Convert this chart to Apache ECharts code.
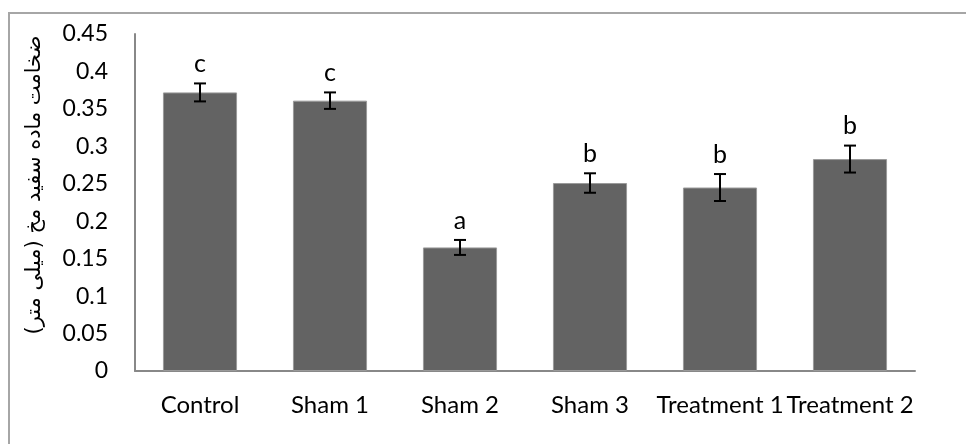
<!DOCTYPE html>
<html>
<head>
<meta charset="utf-8">
<script src="https://cdn.jsdelivr.net/npm/echarts@6/dist/echarts.min.js"></script>
<style>html,body{margin:0;padding:0;background:#fff;}#c{width:966px;height:444px;}</style>
</head>
<body>
<div id="c"></div>
<script>
const categories = ['Control', 'Sham 1', 'Sham 2', 'Sham 3', 'Treatment 1', 'Treatment 2'];
const means = [0.372, 0.361, 0.165, 0.251, 0.245, 0.283];
const errors = [0.012, 0.011, 0.010, 0.013, 0.018, 0.018];
const letters = ['c', 'c', 'a', 'b', 'b', 'b'];
const yTicks = ['0', '0.05', '0.1', '0.15', '0.2', '0.25', '0.3', '0.35', '0.4', '0.45'];
const yTitle = 'ضخامت ماده سفید مخ (میلی متر)';

const FONT = 'Lato';
const errData = categories.map((c, i) => [i, means[i] - errors[i], means[i] + errors[i], i]);

const chart = echarts.init(document.getElementById('c'), null, { renderer: 'canvas' });
chart.setOption({
  animation: false,
  backgroundColor: '#fff',
  grid: { left: 135, right: 51, top: 34, bottom: 73 },
  graphic: [
    { type: 'rect', shape: { x: 9, y: 13, width: 1000, height: 500 }, style: { fill: 'none', stroke: '#a6a6a6', lineWidth: 2 }, silent: true, z: 0 },
    { type: 'text', x: 35, y: 185, rotation: Math.PI / 2,
      style: { text: yTitle, fontSize: 21, fontFamily: 'DejaVu Sans', fill: '#000', align: 'center', verticalAlign: 'middle' } }
  ],
  xAxis: {
    type: 'category',
    data: categories,
    axisLine: { lineStyle: { color: '#888', width: 2 } },
    axisTick: { show: false },
    axisLabel: { color: '#000', fontSize: 24, fontFamily: FONT, margin: 22, interval: 0 }
  },
  yAxis: {
    type: 'value',
    min: 0, max: 0.45, interval: 0.05,
    axisLine: { show: true, lineStyle: { color: '#888', width: 2 } },
    axisTick: { show: false },
    splitLine: { show: false },
    axisLabel: { color: '#000', fontSize: 23, fontFamily: FONT, margin: 27,
      formatter: (v) => yTicks[Math.round(v / 0.05)] }
  },
  series: [
    {
      type: 'bar',
      data: means,
      barWidth: '57%',
      itemStyle: { color: '#636363', borderColor: '#9a9a9a', borderWidth: 1 }
    },
    {
      type: 'custom',
      data: errData,
      z: 10,
      renderItem: function (params, api) {
        const i = api.value(0);
        const lo = api.coord([i, api.value(1)]);
        const hi = api.coord([i, api.value(2)]);
        const hw = 6;
        const st = { stroke: '#000', lineWidth: 2 };
        return {
          type: 'group',
          children: [
            { type: 'line', shape: { x1: lo[0], y1: lo[1], x2: hi[0], y2: hi[1] }, style: st },
            { type: 'line', shape: { x1: hi[0] - hw, y1: hi[1], x2: hi[0] + hw, y2: hi[1] }, style: st },
            { type: 'line', shape: { x1: lo[0] - hw, y1: lo[1], x2: lo[0] + hw, y2: lo[1] }, style: st },
            { type: 'text', x: hi[0], y: hi[1] - 7,
              style: { text: letters[api.value(3)], fontSize: 25, fontFamily: FONT, fill: '#000', align: 'center', verticalAlign: 'bottom' } }
          ]
        };
      }
    }
  ]
});
</script>
</body>
</html>
